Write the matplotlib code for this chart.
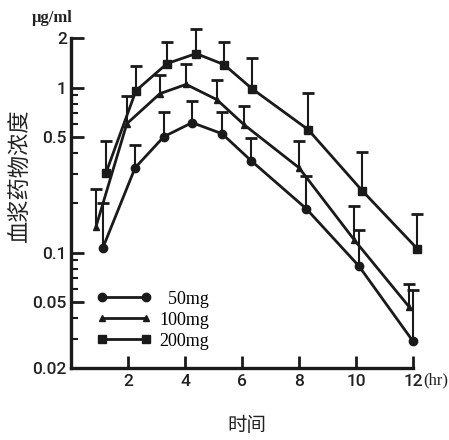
import numpy as np
import matplotlib.pyplot as plt
from matplotlib.ticker import FixedLocator, NullFormatter

# time (hr) and mean concentration / upper error bar end (ug/ml)
t_50 = [1.12, 2.25, 3.26, 4.25, 5.30, 6.32, 8.25, 10.1, 12.0]
c_50 = [0.107, 0.327, 0.505, 0.614, 0.526, 0.361, 0.185, 0.083, 0.029]
up_50 = [0.201, 0.451, 0.716, 0.834, 0.716, 0.498, 0.293, 0.138, 0.059]

t_100 = [0.88, 1.96, 3.12, 4.04, 5.12, 6.07, 8.0, 9.93, 11.86]
c_100 = [0.144, 0.605, 0.920, 1.047, 0.846, 0.597, 0.327, 0.120, 0.047]
up_100 = [0.244, 0.894, 1.20, 1.40, 1.11, 0.778, 0.477, 0.193, 0.065]

t_200 = [1.23, 2.28, 3.37, 4.39, 5.37, 6.35, 8.32, 10.21, 12.14]
c_200 = [0.305, 0.959, 1.40, 1.61, 1.38, 0.986, 0.557, 0.238, 0.106]
up_200 = [0.477, 1.36, 1.88, 2.26, 1.88, 1.52, 0.933, 0.409, 0.172]

labels = ["  50mg", "100mg", "200mg"]
markers = ["o", "^", "s"]
msizes = [6, 5, 5.5]

y_major = [0.02, 0.05, 0.1, 0.5, 1, 2]
y_major_labels = ["0.02", "0.05", "0.1", "0.5", "1", "2"]
y_minor = [0.03, 0.04, 0.06, 0.07, 0.08, 0.09, 0.2, 0.3, 0.4, 0.6, 0.7, 0.8, 0.9]
x_ticks = [2, 4, 6, 8, 10, 12]

ink = "#1a1a1a"

fig = plt.figure(figsize=(4.49, 4.40), dpi=100)
ax = fig.add_axes([0.158, 0.1636, 0.762, 0.75])

series = [(t_50, c_50, up_50), (t_100, c_100, up_100), (t_200, c_200, up_200)]
handles = []
for (t, c, up), lab, mk, ms in zip(series, labels, markers, msizes):
    # upper error bars only
    ax.vlines(t, c, up, color=ink, lw=1.5, clip_on=False, zorder=2)
    ax.plot(t, up, ls="none", marker="_", ms=8, mew=2.0, color=ink,
            clip_on=False, zorder=2)
    ln, = ax.plot(t, c, "-", marker=mk, ms=ms, color=ink, lw=2.0,
                  label=lab, clip_on=False, zorder=3)
    handles.append(ln)

ax.set_yscale("log")
ax.set_ylim(0.02, 2)
ax.set_xlim(0, 12)

ax.yaxis.set_major_locator(FixedLocator(y_major))
ax.set_yticklabels(y_major_labels)
ax.yaxis.set_minor_locator(FixedLocator(y_minor))
ax.yaxis.set_minor_formatter(NullFormatter())
ax.set_xticks(x_ticks)
ax.set_xticklabels([str(v) for v in x_ticks])

for s in ["top", "right"]:
    ax.spines[s].set_visible(False)
for s in ["left", "bottom"]:
    ax.spines[s].set_linewidth(2.4)
    ax.spines[s].set_color(ink)

ax.tick_params(which="major", direction="in", length=9, width=2.0,
               color=ink, labelsize=12.5, labelcolor="#222222")
ax.tick_params(which="minor", direction="in", length=5, width=1.5,
               color=ink)
ax.tick_params(axis="y", pad=3)
ax.tick_params(axis="x", pad=4)
for lbl in ax.get_xticklabels() + ax.get_yticklabels():
    lbl.set_fontfamily("Roboto")
    lbl.set_fontweight("medium")

leg = ax.legend(handles=handles, loc="lower left",
                bbox_to_anchor=(0.076, 0.056), frameon=False, numpoints=2,
                handlelength=3.0, handletextpad=0.45, labelspacing=0.22,
                borderpad=0, borderaxespad=0,
                prop={"family": "Liberation Serif", "size": 13})

fig.text(0.071, 0.959, "μg/ml", family="Liberation Serif", fontsize=12,
         fontweight="bold", va="center", ha="left", color="#222222")
fig.text(0.942, 0.136, "(hr)", family="Liberation Serif", fontsize=12,
         va="center", ha="left", color="#222222")
fig.text(0.045, 0.60, "血浆药物浓度", family=["Noto Sans CJK SC", "DejaVu Sans"],
         fontsize=16, rotation=90, va="center", ha="center", color="#222222")
fig.text(0.55, 0.034, "时间", family=["Noto Sans CJK SC", "DejaVu Sans"],
         fontsize=14, va="center", ha="center", color="#222222")

fig.savefig("out.png", dpi=100)
